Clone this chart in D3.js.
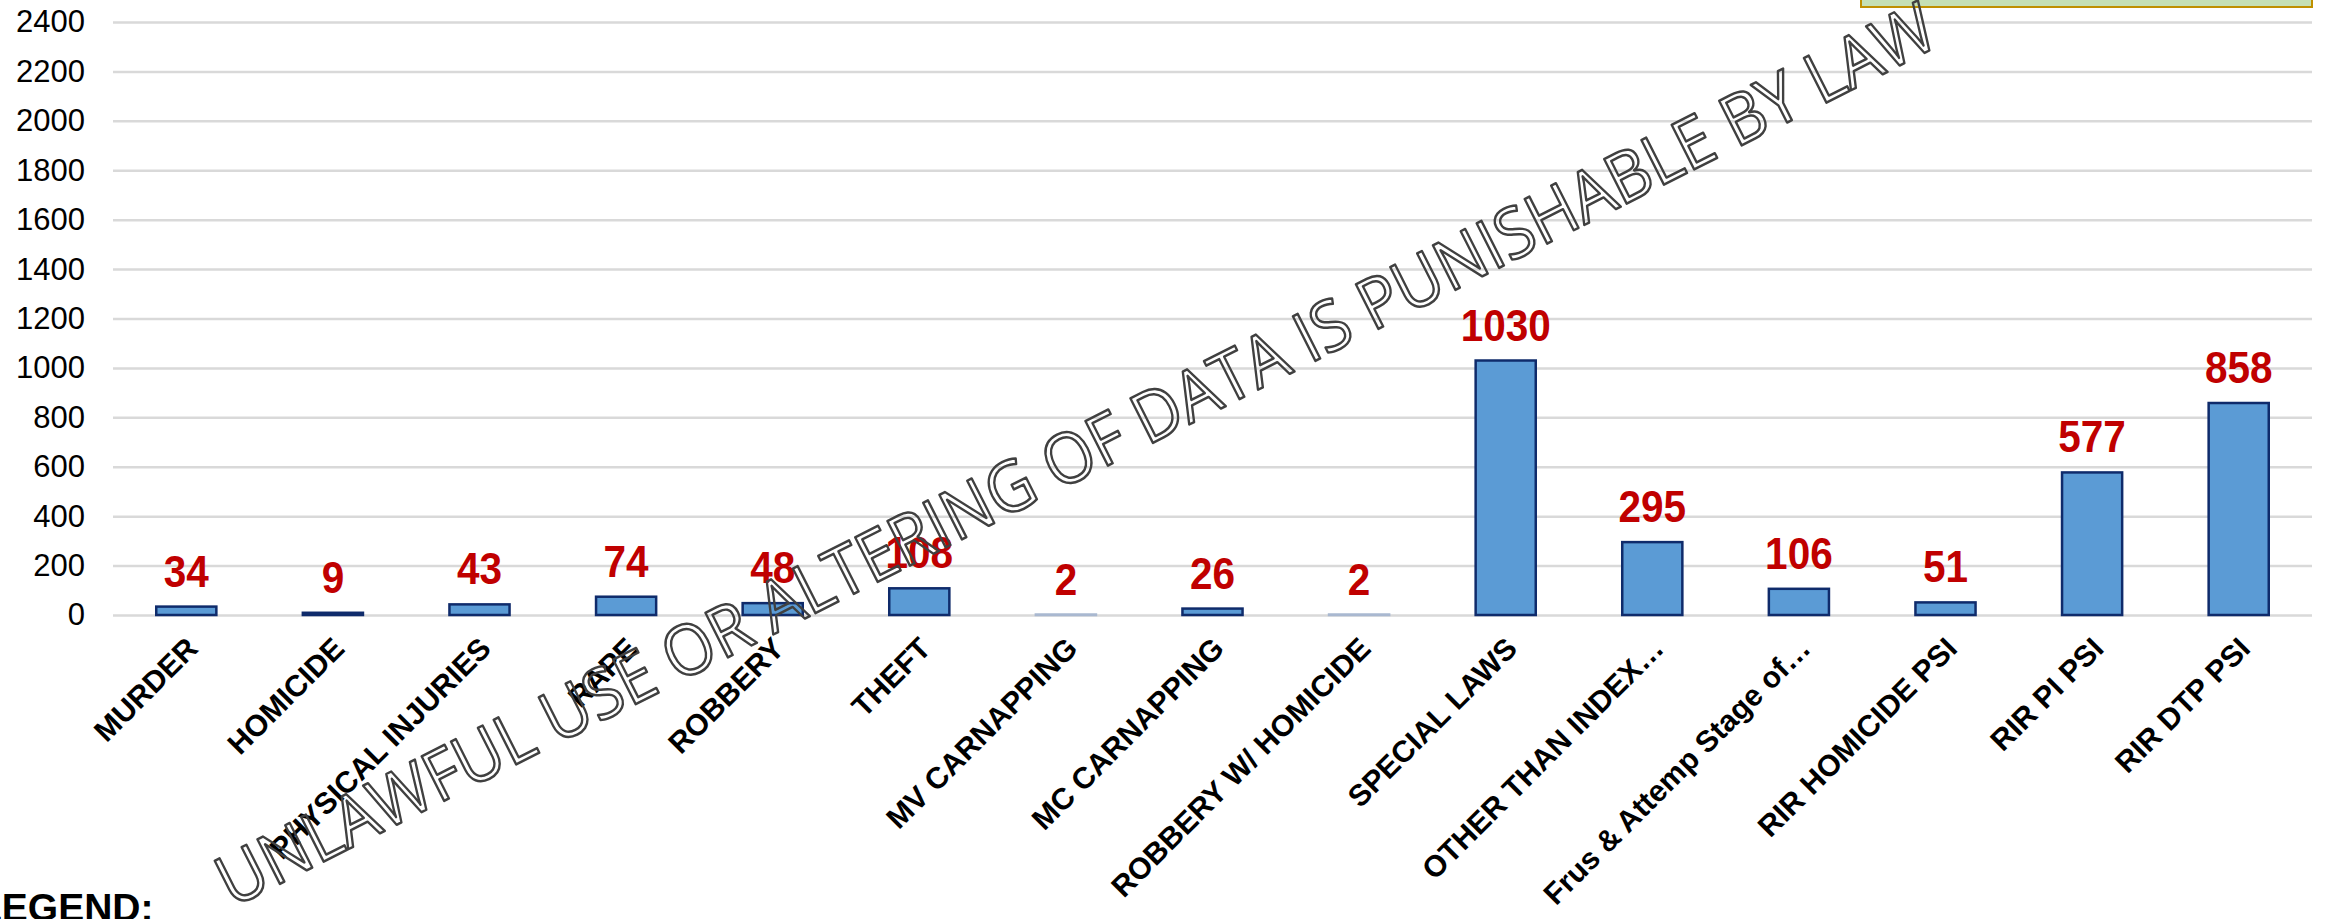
<!DOCTYPE html>
<html>
<head>
<meta charset="utf-8">
<script src="https://cdn.jsdelivr.net/npm/d3@7/dist/d3.min.js"></script>
<style>
  html, body { margin: 0; padding: 0; background: #fff; overflow: hidden; }
  svg { display: block; font-family: "Liberation Sans", Arial, sans-serif; }
</style>
</head>
<body>
<svg id="chart" width="2326" height="919"></svg>
<script>
let categories = ["MURDER", "HOMICIDE", "PHYSICAL INJURIES", "RAPE", "ROBBERY", "THEFT",
  "MV CARNAPPING", "MC CARNAPPING", "ROBBERY W/ HOMICIDE", "SPECIAL LAWS",
  "OTHER THAN INDEX\u2026", "Frus & Attemp Stage of\u2026", "RIR HOMICIDE PSI", "RIR PI PSI", "RIR DTP PSI"];
let values = [34, 9, 43, 74, 48, 108, 2, 26, 2, 1030, 295, 106, 51, 577, 858];
let yTicks = [0, 200, 400, 600, 800, 1000, 1200, 1400, 1600, 1800, 2000, 2200, 2400];
let watermark = "UNLAWFUL USE OR ALTERING OF DATA IS PUNISHABLE BY LAW";

let svg = d3.select("#chart");
let margin = { left: 113, right: 14, top: 22, bottom: 304 };
let W = 2326, H = 919;

let x = d3.scaleBand()
  .domain(categories)
  .range([margin.left, W - margin.right])
  .paddingInner(0.59)
  .paddingOuter(0.295);

let y = d3.scaleLinear()
  .domain([0, 2400])
  .range([H - margin.bottom, margin.top]);

// legend box peeking at top right
svg.append("rect")
  .attr("x", 1861).attr("y", -10)
  .attr("width", 451).attr("height", 17)
  .attr("fill", "#C5E0B4")
  .attr("stroke", "#BF9000")
  .attr("stroke-width", 2);

// gridlines
let grid = svg.append("g")
  .attr("transform", "translate(" + margin.left + ",0)")
  .call(d3.axisLeft(y).tickValues(yTicks).tickSize(-(W - margin.left - margin.right)).tickFormat(""));
grid.select(".domain").remove();
grid.selectAll("line").attr("stroke", "#D9D9D9").attr("stroke-width", 2.5);

// y labels
let yAxis = svg.append("g")
  .attr("transform", "translate(" + margin.left + ",0)")
  .call(d3.axisLeft(y).tickValues(yTicks).tickSize(0).tickPadding(28).tickFormat(d3.format("d")));
yAxis.select(".domain").remove();
yAxis.selectAll("text")
  .attr("font-family", "'Liberation Sans', Arial, sans-serif")
  .attr("font-size", 31)
  .attr("fill", "#000");

// bars
svg.append("g").selectAll("rect")
  .data(values)
  .join("rect")
  .attr("x", (d, i) => x(categories[i]))
  .attr("y", d => y(d))
  .attr("width", x.bandwidth())
  .attr("height", d => y(0) - y(d))
  .attr("fill", "#5B9BD5")
  .attr("stroke", d => d < 5 ? "#A9B8D0" : "#0F2B6B")
  .attr("stroke-width", 2.5);

// value labels
svg.append("g").selectAll("text")
  .data(values)
  .join("text")
  .attr("transform", (d, i) => "translate(" + (x(categories[i]) + x.bandwidth() / 2) + "," + (y(d) - 20) + ") scale(0.9,1)")
  .attr("text-anchor", "middle")
  .attr("font-family", "'Liberation Sans', Arial, sans-serif")
  .attr("font-weight", "bold")
  .attr("font-size", 45)
  .attr("fill", "#C00000")
  .text(d => d);

// x labels
let xAxis = svg.append("g")
  .attr("transform", "translate(0," + y(0) + ")")
  .call(d3.axisBottom(x).tickSize(0).tickPadding(0));
xAxis.select(".domain").remove();
xAxis.selectAll("text")
  .attr("font-family", "'Liberation Sans', Arial, sans-serif")
  .attr("font-weight", "bold")
  .attr("font-size", 30)
  .attr("fill", "#000")
  .attr("text-anchor", "end")
  .attr("dy", "0.72em")
  .attr("transform", "translate(-2,20) rotate(-45)");

// watermark
svg.append("text")
  .attr("transform", "translate(232,908) rotate(-26.8)")
  .attr("font-family", "'Open Sans', sans-serif")
  .attr("font-size", 70)
  .attr("textLength", 1915)
  .attr("lengthAdjust", "spacingAndGlyphs")
  .attr("fill", "none")
  .attr("stroke", "#404040")
  .attr("stroke-width", 2.5)
  .attr("stroke-linejoin", "round")
  .text(watermark);

// legend heading (cut at bottom edge)
svg.append("text")
  .attr("x", -22).attr("y", 921)
  .attr("font-family", "'Liberation Sans', Arial, sans-serif")
  .attr("font-weight", "bold")
  .attr("font-size", 39)
  .attr("fill", "#000")
  .text("LEGEND:");
</script>
</body>
</html>
